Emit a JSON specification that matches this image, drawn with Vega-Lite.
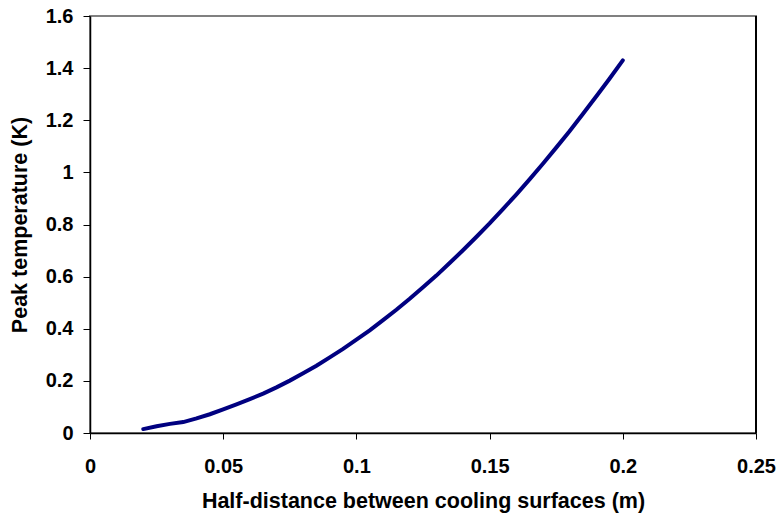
{
  "$schema": "https://vega.github.io/schema/vega-lite/v6.json",
  "width": 666,
  "height": 417,
  "autosize": "none",
  "padding": {"left": 90, "top": 16, "right": 26, "bottom": 83},
  "background": "white",
  "config": {
    "view": {"stroke": "#808080", "strokeWidth": 2},
    "font": "Liberation Sans",
    "axis": {
      "grid": false,
      "domainColor": "black",
      "domainWidth": 1.5,
      "tickColor": "black",
      "labelColor": "black",
      "titleColor": "black",
      "labelFont": "Liberation Sans",
      "titleFont": "Liberation Sans",
      "labelFontWeight": "bold",
      "titleFontWeight": "bold",
      "labelFontSize": 20,
      "titleFontSize": 21.5
    }
  },
  "data": {
    "values": [
      {"x": 0.02, "y": 0.015},
      {"x": 0.025, "y": 0.026},
      {"x": 0.03, "y": 0.035},
      {"x": 0.035, "y": 0.042},
      {"x": 0.04, "y": 0.056},
      {"x": 0.045, "y": 0.072},
      {"x": 0.05, "y": 0.091},
      {"x": 0.055, "y": 0.11},
      {"x": 0.06, "y": 0.13},
      {"x": 0.065, "y": 0.151},
      {"x": 0.07, "y": 0.175},
      {"x": 0.075, "y": 0.201},
      {"x": 0.08, "y": 0.229},
      {"x": 0.085, "y": 0.258},
      {"x": 0.09, "y": 0.29},
      {"x": 0.095, "y": 0.323},
      {"x": 0.1, "y": 0.358},
      {"x": 0.105, "y": 0.394},
      {"x": 0.11, "y": 0.433},
      {"x": 0.115, "y": 0.473},
      {"x": 0.12, "y": 0.515},
      {"x": 0.125, "y": 0.559},
      {"x": 0.13, "y": 0.604},
      {"x": 0.135, "y": 0.652},
      {"x": 0.14, "y": 0.701},
      {"x": 0.145, "y": 0.752},
      {"x": 0.15, "y": 0.804},
      {"x": 0.155, "y": 0.859},
      {"x": 0.16, "y": 0.915},
      {"x": 0.165, "y": 0.973},
      {"x": 0.17, "y": 1.033},
      {"x": 0.175, "y": 1.095},
      {"x": 0.18, "y": 1.158},
      {"x": 0.185, "y": 1.224},
      {"x": 0.19, "y": 1.291},
      {"x": 0.195, "y": 1.359},
      {"x": 0.2, "y": 1.43}
    ]
  },
  "layer": [
    {
      "mark": {"type": "line", "color": "#000080", "strokeWidth": 4, "strokeCap": "round"},
      "encoding": {
        "x": {
          "field": "x",
          "type": "quantitative",
          "scale": {"domain": [0, 0.25], "nice": false, "zero": false},
          "axis": {
            "title": "Half-distance between cooling surfaces (m)",
            "values": [0, 0.05, 0.1, 0.15, 0.2, 0.25],
            "format": "~g",
            "tickSize": 6,
            "labelPadding": 17,
            "titlePadding": 14,
            "labelFlush": false,
            "labelOverlap": false
          }
        },
        "y": {
          "field": "y",
          "type": "quantitative",
          "scale": {"domain": [0, 1.6], "nice": false},
          "axis": {
            "title": "Peak temperature (K)",
            "values": [0, 0.2, 0.4, 0.6, 0.8, 1, 1.2, 1.4, 1.6],
            "format": "~g",
            "tickSize": 7,
            "labelPadding": 10,
            "titlePadding": 14,
            "labelFlush": false,
            "labelOverlap": false
          }
        }
      }
    },
    {
      "mark": {"type": "rule", "color": "black", "strokeWidth": 1.5},
      "encoding": {"x": {"datum": 0.25, "type": "quantitative"}}
    }
  ]
}
